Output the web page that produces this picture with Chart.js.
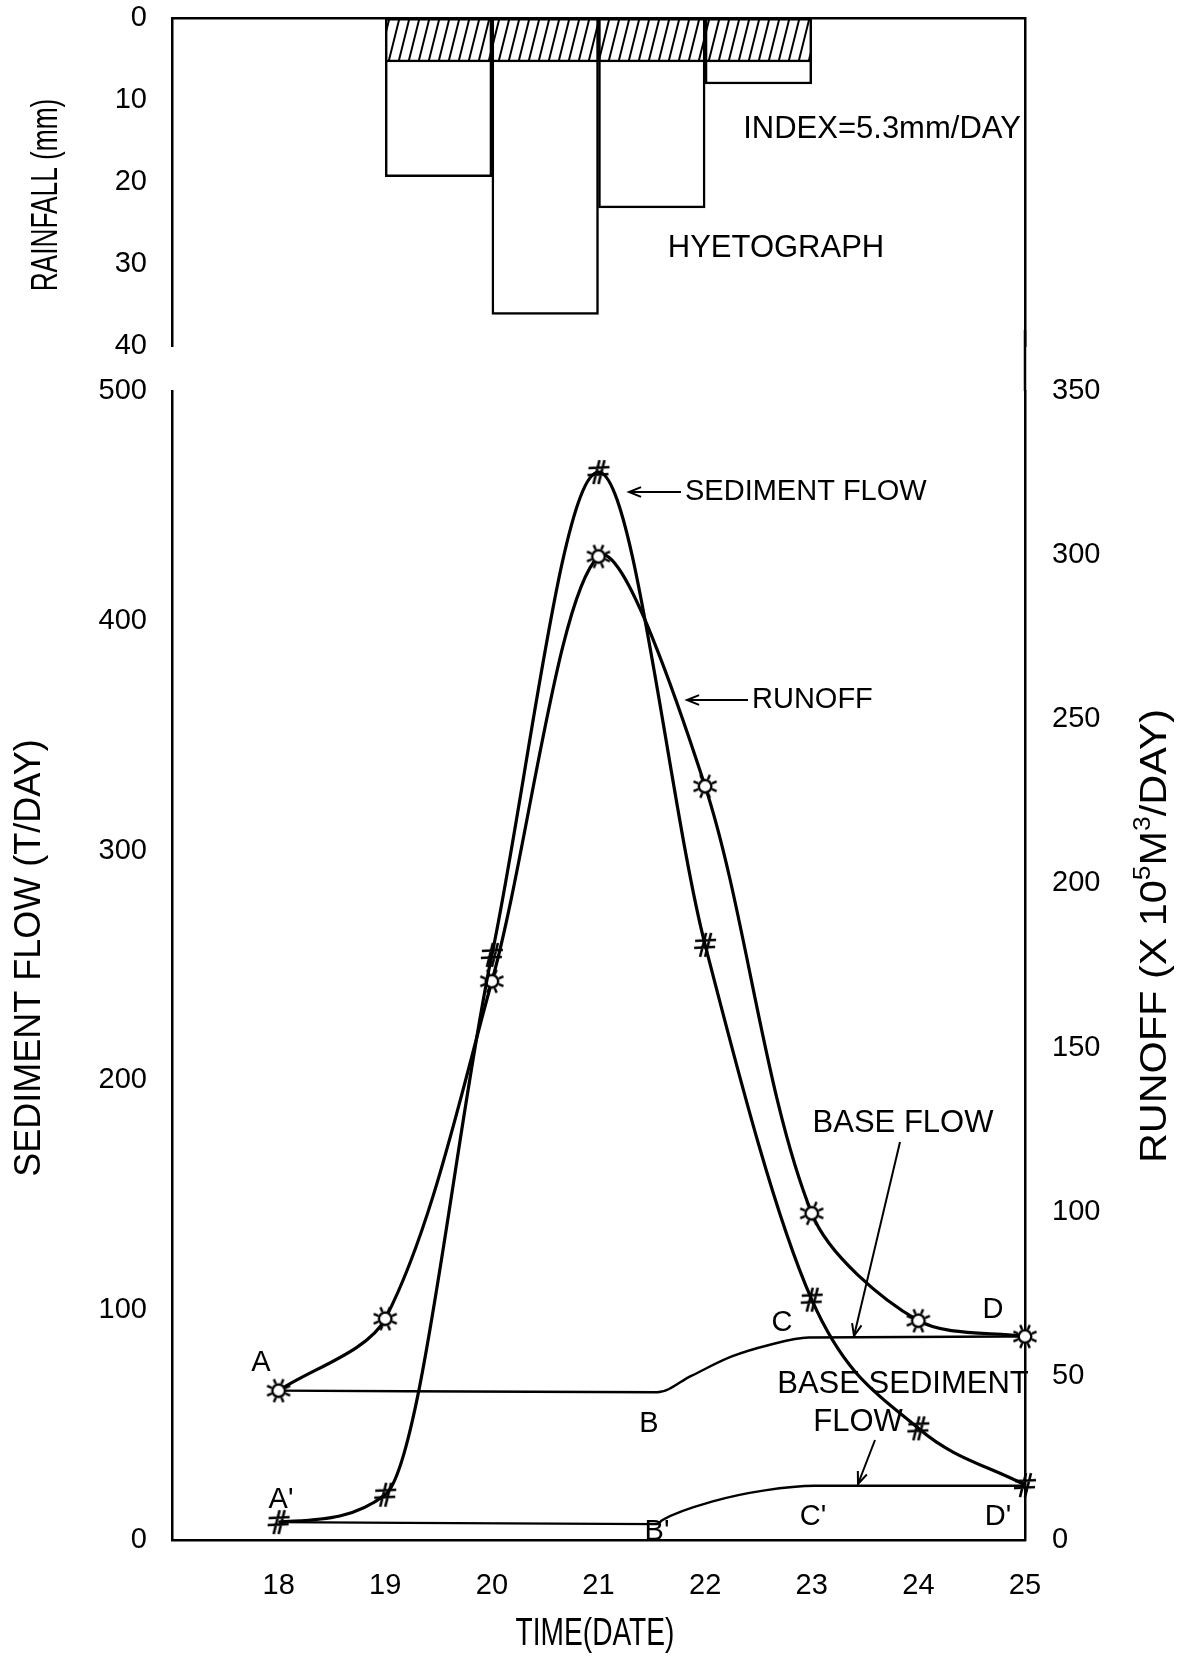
<!DOCTYPE html>
<html>
<head>
<meta charset="utf-8">
<script src="https://cdn.jsdelivr.net/npm/chart.js@4.4.0/dist/chart.umd.min.js"></script>
<style>
  html, body { margin: 0; padding: 0; background: #fff; }
  #wrap { position: relative; width: 1180px; height: 1657px; overflow: hidden; }
  #main, #lluvia { position: absolute; left: 0; top: 0; }
</style>
</head>
<body>
<div id="wrap">
  <canvas id="main" width="1180" height="1657"></canvas>
  <canvas id="lluvia" width="1180" height="420"></canvas>
</div>
<script>
// datos
const dias = [18, 19, 20, 21, 22, 23, 24, 25];
const sedimento = [7.8, 19.7, 254.6, 464.7, 259, 104.6, 48.6, 23.9];    // T/DAY
const escorrentia = [45.5, 67.4, 170.2, 299.6, 229.6, 99.5, 66.8, 62];  // x10^5 M3/DAY
const baseFlowX = [18, 21.55, 21.87, 22.25, 22.6, 22.97, 25];
const baseFlowY = [45.5, 45, 50, 55.9, 59.4, 61.7, 62];
const baseSedX = [18, 21.55, 21.6, 22.09, 22.56, 23.03, 25];
const baseSedY = [7.8, 6.9, 8.7, 17, 21.6, 23.6, 23.6];
const lluviaDias = [19, 20, 21, 22];
const lluvia = [19.3, 36.1, 23.1, 8.0];   // mm
const indice = 5.3;                        // mm/day
const ticksFechas = [18, 19, 20, 21, 22, 23, 24, 25];
const ticksLluvia = [0, 10, 20, 30, 40];
const ticksSed = [0, 100, 200, 300, 400, 500];
const ticksRunoff = [0, 50, 100, 150, 200, 250, 300, 350];

const FUENTE = '"Liberation Sans", Arial, sans-serif';
const negro = '#000';

function puntos(xs, ys) {
  return xs.map((x, i) => ({ x: x, y: ys[i] }));
}

function fijarTicks(lista) {
  return s => { s.ticks = lista.map(v => ({ value: v })); };
}

function marcaSol() {
  const c = document.createElement('canvas');
  c.width = 30; c.height = 30;
  const g = c.getContext('2d');
  g.strokeStyle = negro; g.lineWidth = 2.4;
  g.fillStyle = '#fff';
  g.beginPath(); g.arc(15, 15, 6.3, 0, Math.PI * 2); g.fill(); g.stroke();
  g.beginPath();
  for (let k = 0; k < 8; k++) {
    const a = k * Math.PI / 4 + Math.PI / 8;
    g.moveTo(15 + Math.cos(a) * 7.5, 15 + Math.sin(a) * 7.5);
    g.lineTo(15 + Math.cos(a) * 12.5, 15 + Math.sin(a) * 12.5);
  }
  g.stroke();
  return c;
}

function marcaHash() {
  const c = document.createElement('canvas');
  c.width = 30; c.height = 30;
  const g = c.getContext('2d');
  g.strokeStyle = negro; g.lineWidth = 2.6;
  g.beginPath();
  g.moveTo(10, 27); g.lineTo(16, 3);
  g.moveTo(15, 27); g.lineTo(21, 3);
  g.moveTo(5, 11); g.lineTo(26, 10);
  g.moveTo(4, 18); g.lineTo(25, 17);
  g.stroke();
  return c;
}

function patronRayado(ctx) {
  const w = 10, h = 40;
  const p = document.createElement('canvas');
  p.width = w; p.height = h;
  const g = p.getContext('2d');
  g.fillStyle = '#fff'; g.fillRect(0, 0, w, h);
  g.strokeStyle = negro; g.lineWidth = 2;
  g.beginPath();
  for (const dx of [-w, 0, w]) {
    g.moveTo(dx - 1, h + 4); g.lineTo(dx + w + 1, -4);
  }
  g.stroke();
  return ctx.createPattern(p, 'repeat');
}

function flecha(ctx, x1, y1, x2, y2) {
  ctx.beginPath(); ctx.moveTo(x1, y1); ctx.lineTo(x2, y2); ctx.stroke();
  const a = Math.atan2(y2 - y1, x2 - x1), L = 13, w = 0.38;
  ctx.beginPath();
  ctx.moveTo(x2 - L * Math.cos(a - w), y2 - L * Math.sin(a - w));
  ctx.lineTo(x2, y2);
  ctx.lineTo(x2 - L * Math.cos(a + w), y2 - L * Math.sin(a + w));
  ctx.stroke();
}

function texto(ctx, t, x, y, size, align) {
  ctx.font = size + 'px ' + FUENTE;
  ctx.textAlign = align || 'center';
  ctx.textBaseline = 'middle';
  ctx.fillText(t, x, y);
}

// titulo vertical; sx estira o estrecha el texto como en la figura
function textoVertical(ctx, t, x, y, size, sx) {
  ctx.save();
  ctx.translate(x, y);
  ctx.rotate(-Math.PI / 2);
  ctx.scale(sx, 1);
  texto(ctx, t, 0, 0, size);
  ctx.restore();
}

const ejeBorde = { display: true, color: negro, width: 2.5 };
const sinGrid = { display: false, drawTicks: false };
const fuenteTicks = { family: FUENTE, size: 29 };

// ---------- grafico principal ----------
const anotaciones = {
  id: 'anotaciones',
  afterDraw(chart) {
    const ctx = chart.ctx;
    const area = chart.chartArea;
    ctx.save();
    ctx.fillStyle = negro;
    ctx.strokeStyle = negro;

    // union del borde derecho con el hietograma
    ctx.lineWidth = 2.5;
    ctx.beginPath(); ctx.moveTo(area.right, 330); ctx.lineTo(area.right, area.top); ctx.stroke();
    ctx.lineWidth = 2;

    // textos del hietograma
    texto(ctx, 'INDEX=' + indice + 'mm/DAY', 882, 129, 31);
    texto(ctx, 'HYETOGRAPH', 776, 248, 31);
    textoVertical(ctx, 'RAINFALL (mm)', 47, 195, 36, 0.73);

    texto(ctx, 'A', 261, 1363, 29);
    texto(ctx, 'B', 649, 1424, 29);
    texto(ctx, 'C', 782, 1323, 29);
    texto(ctx, 'D', 993, 1310, 29);
    texto(ctx, "A'", 281, 1500, 29);
    texto(ctx, "B'", 657, 1532, 29);
    texto(ctx, "C'", 813, 1517, 29);
    texto(ctx, "D'", 998, 1517, 29);

    texto(ctx, 'SEDIMENT FLOW', 685, 492, 29, 'left');
    flecha(ctx, 681, 492, 629, 492);
    texto(ctx, 'RUNOFF', 752, 700, 29, 'left');
    flecha(ctx, 748, 700, 687, 700);
    texto(ctx, 'BASE FLOW', 903, 1123, 31);
    flecha(ctx, 900, 1142, 854, 1336);
    texto(ctx, 'BASE SEDIMENT', 903, 1384, 31);
    texto(ctx, 'FLOW', 858, 1422, 31);
    flecha(ctx, 875, 1440, 858, 1484);

    // titulos de ejes
    textoVertical(ctx, 'SEDIMENT FLOW (T/DAY)', 30, 958, 36, 1);
    ctx.save();
    ctx.translate(595, 1635);
    ctx.scale(0.74, 1);
    texto(ctx, 'TIME(DATE)', 0, 0, 38);
    ctx.restore();

    // RUNOFF (X 10^5 M^3/DAY) con superindices
    const partes = [['RUNOFF (X 10', false], ['5', true], ['M', false], ['3', true], ['/DAY)', false]];
    const tam = 36, tamSup = 23;
    ctx.save();
    ctx.translate(1156, 936);
    ctx.rotate(-Math.PI / 2);
    ctx.scale(1.15, 1);
    ctx.textAlign = 'left';
    ctx.textBaseline = 'middle';
    let total = 0;
    partes.forEach(p => {
      ctx.font = (p[1] ? tamSup : tam) + 'px ' + FUENTE;
      total += ctx.measureText(p[0]).width;
    });
    let px = -total / 2;
    partes.forEach(p => {
      ctx.font = (p[1] ? tamSup : tam) + 'px ' + FUENTE;
      ctx.fillText(p[0], px, p[1] ? -12 : 0);
      px += ctx.measureText(p[0]).width;
    });
    ctx.restore();

    ctx.restore();
  }
};

new Chart(document.getElementById('main'), {
  type: 'line',
  data: {
    datasets: [
      {
        label: 'SEDIMENT FLOW',
        data: puntos(dias, sedimento),
        yAxisID: 'y',
        borderColor: negro,
        borderWidth: 3.2,
        cubicInterpolationMode: 'monotone',
        pointStyle: marcaHash(),
        pointRadius: 12,
        clip: false
      },
      {
        label: 'RUNOFF',
        data: puntos(dias, escorrentia),
        yAxisID: 'yR',
        borderColor: negro,
        borderWidth: 3.2,
        tension: 0.3,
        pointStyle: marcaSol(),
        pointRadius: 12,
        clip: false
      },
      {
        label: 'BASE FLOW',
        data: puntos(baseFlowX, baseFlowY),
        yAxisID: 'yR',
        borderColor: negro,
        borderWidth: 2.4,
        cubicInterpolationMode: 'monotone',
        pointRadius: 0
      },
      {
        label: 'BASE SEDIMENT FLOW',
        data: puntos(baseSedX, baseSedY),
        yAxisID: 'y',
        borderColor: negro,
        borderWidth: 2.4,
        cubicInterpolationMode: 'monotone',
        pointRadius: 0
      }
    ]
  },
  options: {
    responsive: false,
    animation: false,
    layout: { padding: { top: 391, left: 0, right: 0, bottom: 0 } },
    plugins: { legend: { display: false }, tooltip: { enabled: false } },
    scales: {
      x: {
        type: 'linear', min: 17, max: 25, position: 'bottom',
        grid: sinGrid, border: ejeBorde,
        ticks: { font: fuenteTicks, color: negro, padding: 29, maxRotation: 0 },
        afterBuildTicks: fijarTicks(ticksFechas),
        afterFit: s => { s.height = 117; }
      },
      y: {
        type: 'linear', min: 0, max: 500, position: 'left',
        grid: sinGrid, border: ejeBorde,
        ticks: { font: fuenteTicks, color: negro, padding: 25 },
        afterBuildTicks: fijarTicks(ticksSed),
        afterFit: s => { s.width = 172; }
      },
      yR: {
        type: 'linear', min: 0, max: 350, position: 'right',
        grid: sinGrid, border: ejeBorde,
        ticks: { font: fuenteTicks, color: negro, padding: 27 },
        afterBuildTicks: fijarTicks(ticksRunoff),
        afterFit: s => { s.width = 155; }
      }
    }
  },
  plugins: [anotaciones]
});

// ---------- hietograma ----------
const canvasLluvia = document.getElementById('lluvia');
const rayado = patronRayado(canvasLluvia.getContext('2d'));

const hieto = new Chart(canvasLluvia, {
  type: 'bar',
  data: {
    datasets: [
      {
        label: 'INDEX',
        data: lluviaDias.map((d, i) => ({ x: d + 0.5, y: [0, Math.min(indice, lluvia[i])] })),
        backgroundColor: rayado,
        borderColor: negro,
        borderWidth: 2.5,
        borderSkipped: false,
        grouped: false,
        barPercentage: 1,
        categoryPercentage: 1
      },
      {
        label: 'RAINFALL',
        data: lluviaDias.map((d, i) => ({ x: d + 0.5, y: [0, lluvia[i]] })),
        backgroundColor: '#fff',
        borderColor: negro,
        borderWidth: 2.5,
        borderSkipped: false,
        grouped: false,
        barPercentage: 1,
        categoryPercentage: 1
      }
    ]
  },
  options: {
    responsive: false,
    animation: false,
    layout: { padding: { top: 0, left: 0, right: 0, bottom: 54 } },
    plugins: { legend: { display: false }, tooltip: { enabled: false } },
    scales: {
      x: {
        type: 'linear', min: 17, max: 25, position: 'top', offset: false,
        grid: sinGrid, border: ejeBorde,
        ticks: { display: false },
        afterFit: s => { s.height = 18; }
      },
      y: {
        type: 'linear', min: 0, max: 40, reverse: true, position: 'left',
        grid: sinGrid, border: ejeBorde,
        ticks: { font: fuenteTicks, color: negro, padding: 25 },
        afterBuildTicks: fijarTicks(ticksLluvia),
        afterFit: s => { s.width = 172; }
      },
      yR: {
        type: 'linear', min: 0, max: 40, reverse: true, position: 'right',
        grid: sinGrid, border: ejeBorde,
        ticks: { display: false },
        afterFit: s => { s.width = 155; }
      }
    }
  }
});

// el area del hietograma debe ir de y=18 (0 mm) a y=346 (40 mm)
const alto = hieto.chartArea.bottom - hieto.chartArea.top;
hieto.options.layout.padding.bottom += alto - 328;
hieto.update();
canvasLluvia.style.top = (18 - hieto.chartArea.top) + 'px';
</script>
</body>
</html>
